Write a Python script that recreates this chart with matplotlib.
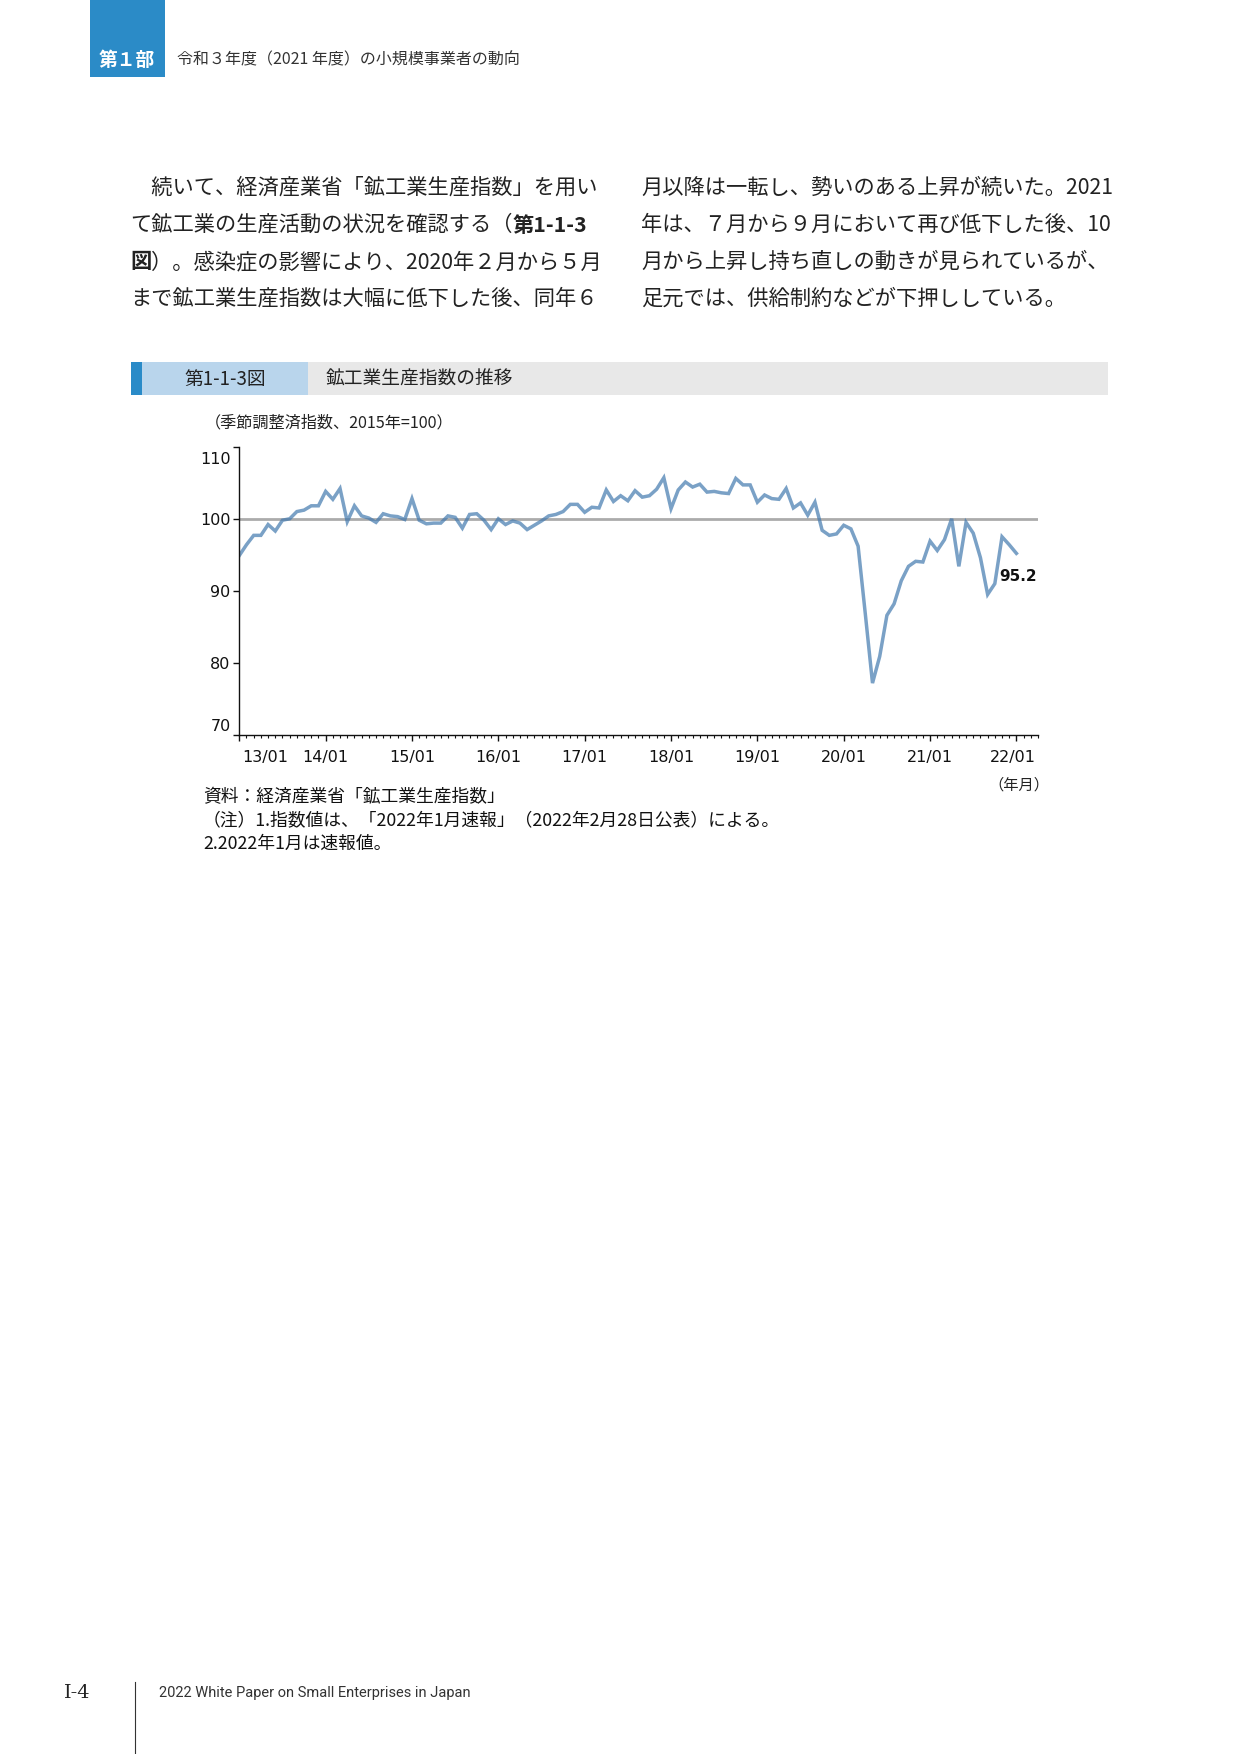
import matplotlib
matplotlib.use("Agg")
import matplotlib.pyplot as plt
from matplotlib.patches import Rectangle
import matplotlib.transforms as mtransforms

# ---------------- data ----------------
values_2013 = [94.9, 96.4, 97.7, 97.7, 99.2, 98.3, 99.8, 100.0, 101.0, 101.2, 101.8, 101.8]
values_2014 = [103.8, 102.7, 104.2, 99.6, 101.8, 100.4, 100.1, 99.5, 100.7, 100.4, 100.3, 99.9]
values_2015 = [102.8, 99.8, 99.3, 99.4, 99.4, 100.4, 100.2, 98.7, 100.6, 100.7, 99.8, 98.5]
values_2016 = [100.0, 99.2, 99.7, 99.4, 98.5, 99.1, 99.7, 100.4, 100.6, 101.0, 102.0, 102.0]
values_2017 = [100.9, 101.6, 101.5, 104.0, 102.4, 103.2, 102.5, 103.9, 103.0, 103.2, 104.1, 105.7]
values_2018 = [101.4, 104.0, 105.1, 104.4, 104.8, 103.7, 103.8, 103.6, 103.5, 105.6, 104.7, 104.7]
values_2019 = [102.3, 103.3, 102.8, 102.7, 104.2, 101.5, 102.2, 100.5, 102.3, 98.4, 97.7, 97.9]
values_2020 = [99.1, 98.6, 96.2, 86.8, 77.2, 80.9, 86.6, 88.2, 91.4, 93.4, 94.1, 94.0]
values_2021 = [96.9, 95.6, 97.1, 100.0, 93.4, 99.5, 98.0, 94.6, 89.5, 91.0, 97.5, 96.4]
values_2022 = [95.2]

values = (values_2013 + values_2014 + values_2015 + values_2016 + values_2017 +
          values_2018 + values_2019 + values_2020 + values_2021 + values_2022)
month_index = list(range(len(values)))

year_labels = ["13/01", "14/01", "15/01", "16/01", "17/01",
               "18/01", "19/01", "20/01", "21/01", "22/01"]
y_ticks = [70, 80, 90, 100, 110]
last_label = "95.2"

JP = ["Noto Sans CJK JP", "DejaVu Sans"]

# ---------------- page ----------------
fig = plt.figure(figsize=(12.41, 17.54), dpi=100)
page = fig.add_axes([0, 0, 1, 1])
page.set_xlim(0, 1241)
page.set_ylim(1754, 0)
page.axis("off")

# header
page.add_patch(Rectangle((89.5, 0), 75, 77, color="#2b8bc7", lw=0))
page.text(127, 60, "第１部", family=JP, fontsize=13.5, fontweight="bold",
          color="white", ha="center", va="center")
page.text(177, 60, "令和３年度（2021 年度）の小規模事業者の動向", family=JP,
          fontsize=11.5, color="#333333", ha="left", va="center")

# body text
renderer = fig.canvas.get_renderer()


def draw_runs(x, y, runs, size=15.3):
    for s, bold in runs:
        t = page.text(x, y, s, family=JP, fontsize=size,
                      fontweight="bold" if bold else "normal",
                      color="#222222", ha="left", va="center")
        x += t.get_window_extent(renderer).width


left_lines = [
    [("　続いて、経済産業省「鉱工業生産指数」を用い", False)],
    [("て鉱工業の生産活動の状況を確認する（", False), ("第1-1-3", True)],
    [("図", True), ("）。感染症の影響により、2020年２月から５月", False)],
    [("まで鉱工業生産指数は大幅に低下した後、同年６", False)],
]
right_lines = [
    [("月以降は一転し、勢いのある上昇が続いた。2021", False)],
    [("年は、７月から９月において再び低下した後、10", False)],
    [("月から上昇し持ち直しの動きが見られているが、", False)],
    [("足元では、供給制約などが下押ししている。", False)],
]
line_y = [188, 225, 262, 299]
for yy, runs in zip(line_y, left_lines):
    draw_runs(130, yy, runs)
for yy, runs in zip(line_y, right_lines):
    draw_runs(641, yy, runs)

# figure title bar
page.add_patch(Rectangle((131, 361.5), 977, 33.5, color="#e8e8e8", lw=0))
page.add_patch(Rectangle((142, 361.5), 166, 33.5, color="#b9d5ec", lw=0))
page.add_patch(Rectangle((131, 361.5), 11, 33.5, color="#2a8bc8", lw=0))
page.text(225, 379, "第1-1-3図", family=JP, fontsize=13.5, color="#222222",
          ha="center", va="center")
page.text(326, 379, "鉱工業生産指数の推移", family=JP, fontsize=13.5,
          color="#222222", ha="left", va="center")

# axis unit label
page.text(205, 423, "（季節調整済指数、2015年=100）", family=JP, fontsize=11.6,
          color="#222222", ha="left", va="center")
page.text(1019, 785, "（年月）", family=JP, fontsize=11, color="#222222",
          ha="center", va="center")

# notes
page.text(203, 797, "資料：経済産業省「鉱工業生産指数」", family=JP, fontsize=12.8,
          color="#111111", ha="left", va="center")
page.text(203, 821, "（注）1.指数値は、「2022年1月速報」（2022年2月28日公表）による。",
          family=JP, fontsize=12.8, color="#111111", ha="left", va="center")
page.text(203, 844, "2.2022年1月は速報値。", family=JP, fontsize=12.8,
          color="#111111", ha="left", va="center")

# footer
page.text(64, 1693, "Ⅰ-4", family=["DejaVu Serif", "Noto Sans CJK JP"],
          fontsize=14, color="#222222", ha="left", va="center")
page.plot([135.4, 135.4], [1682, 1754], color="#333333", lw=0.8)
page.text(159, 1693, "2022 White Paper on Small Enterprises in Japan",
          family=["Liberation Sans Narrow", "Roboto", "DejaVu Sans"],
          fontsize=10.5, color="#333333", ha="left", va="center")

# ---------------- chart ----------------
x0, x1 = 239.3, 1038.0
y_top, y_bot = 446.7, 735.0
ax = fig.add_axes([x0 / 1241, 1 - y_bot / 1754, (x1 - x0) / 1241, (y_bot - y_top) / 1754])
ax.patch.set_alpha(0)

ax.axhline(100, color="#ababab", lw=2.0, zorder=1)
ax.plot(month_index, values, color="#4279ae", alpha=0.7, lw=2.5,
        solid_joinstyle="miter", zorder=2)

ax.set_xlim(0, 111)
ax.set_ylim(70, 110)
ax.set_xticks(range(0, len(values), 12))
ax.set_xticklabels(year_labels)
ax.set_xticks(range(0, 112), minor=True)
ax.set_yticks(y_ticks)
ax.set_yticklabels([str(v) for v in y_ticks])

ax.tick_params(axis="x", which="major", length=4.5, width=1.0, direction="out",
               labelsize=11.5, pad=6.5, colors="#111111")
ax.tick_params(axis="x", which="minor", length=2.3, width=0.8, direction="out",
               colors="#111111")
ax.tick_params(axis="y", which="major", length=4.3, width=1.0, direction="out",
               labelsize=11.5, pad=2, colors="#111111")

for side in ("top", "right"):
    ax.spines[side].set_visible(False)
for side in ("left", "bottom"):
    ax.spines[side].set_color("#111111")
    ax.spines[side].set_linewidth(1.0)

# shift first / last year labels as in the reference
xt = ax.xaxis.get_major_ticks()
xt[0].label1.set_transform(xt[0].label1.get_transform() +
                           mtransforms.ScaledTranslation(0.257, 0, fig.dpi_scale_trans))
xt[-1].label1.set_transform(xt[-1].label1.get_transform() +
                            mtransforms.ScaledTranslation(-0.04, 0, fig.dpi_scale_trans))
# outermost y labels sit inside the axis range
yt = ax.yaxis.get_major_ticks()
yt[0].label1.set_transform(yt[0].label1.get_transform() +
                           mtransforms.ScaledTranslation(0, 0.10, fig.dpi_scale_trans))
yt[-1].label1.set_transform(yt[-1].label1.get_transform() +
                            mtransforms.ScaledTranslation(0, -0.11, fig.dpi_scale_trans))

ax.annotate(last_label, xy=(month_index[-1], values[-1]), xytext=(1.5, -17),
            textcoords="offset points", ha="center", va="center",
            fontsize=11, fontweight="bold", color="#111111")

fig.savefig("out.png", dpi=100)
